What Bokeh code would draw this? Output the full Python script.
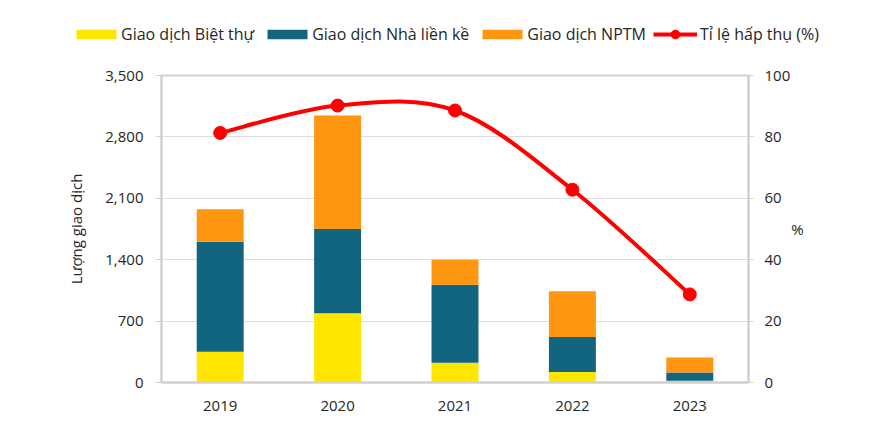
from bokeh.plotting import figure
from bokeh.layouts import column
from bokeh.models import (Range1d, FactorRange, LinearAxis, FixedTicker,
                          NumeralTickFormatter, Legend, LegendItem, ColumnDataSource)
from bokeh.embed import file_html
from bokeh.resources import INLINE

# ---- data ----
years = ["2019", "2020", "2021", "2022", "2023"]
biet_thu = [350, 790, 225, 120, 20]          # Giao dịch Biệt thự
nha_lien_ke = [1255, 960, 890, 400, 95]      # Giao dịch Nhà liền kề
nptm = [370, 1295, 285, 520, 170]            # Giao dịch NPTM
ti_le = [81.3, 90.2, 88.6, 62.8, 28.7]       # Tỉ lệ hấp thụ (%)
left_ticks = [0, 700, 1400, 2100, 2800, 3500]
right_ticks = [0, 20, 40, 60, 80, 100]
series_labels = ["Giao dịch Biệt thự", "Giao dịch Nhà liền kề", "Giao dịch NPTM",
                 "Tỉ lệ hấp thụ (%)"]

FONT = "Open Sans"
TXT = "#262626"
GRAY = "#D3CFCF"
C_YEL, C_TEAL, C_ORG, C_RED = "#FFE600", "#12657F", "#FF9612", "#FF0000"

W = 853
LH = 50          # legend strip height
H = 424 - LH

src = ColumnDataSource(dict(years=years, bt=biet_thu, nlk=nha_lien_ke, nptm=nptm, tl=ti_le))

# ---------------- main chart ----------------
p = figure(width=W, height=H, x_range=FactorRange(*years), y_range=Range1d(0, 3500),
           output_backend="svg", toolbar_location=None,
           min_border_left=161, min_border_right=105, min_border_top=25, min_border_bottom=42)
p.extra_y_ranges = {"pct": Range1d(0, 100)}
p.background_fill_color = "white"
p.border_fill_color = "white"
p.outline_line_color = GRAY
p.outline_line_width = 2

bars = p.vbar_stack(["bt", "nlk", "nptm"], x="years", width=0.4, source=src,
                    fill_color=[C_YEL, C_TEAL, C_ORG], line_color=None)

# smoothed line (Catmull-Rom -> cubic Bezier) through the absorption-rate points
xs = [i + 0.5 for i in range(len(years))]
pts = list(zip(xs, ti_le))
x0, y0, x1, y1, cx0, cy0, cx1, cy1 = ([] for _ in range(8))
for i in range(len(pts) - 1):
    p0 = pts[i]; p3 = pts[i + 1]
    pm = pts[i - 1] if i > 0 else pts[i]
    pn = pts[i + 2] if i + 2 < len(pts) else pts[i + 1]
    x0.append(p0[0]); y0.append(p0[1]); x1.append(p3[0]); y1.append(p3[1])
    cx0.append(p0[0] + (p3[0] - pm[0]) / 6); cy0.append(p0[1] + (p3[1] - pm[1]) / 6)
    cx1.append(p3[0] - (pn[0] - p0[0]) / 6); cy1.append(p3[1] - (pn[1] - p0[1]) / 6)
p.bezier(x0=x0, y0=y0, x1=x1, y1=y1, cx0=cx0, cy0=cy0, cx1=cx1, cy1=cy1,
         y_range_name="pct", line_color=C_RED, line_width=4)
p.scatter(x="years", y="tl", source=src, y_range_name="pct", size=13,
          fill_color=C_RED, line_color=C_RED)

p.xgrid.visible = False
p.ygrid.ticker = FixedTicker(ticks=left_ticks)
p.ygrid.grid_line_color = "#DDDDDD"
p.ygrid.grid_line_width = 1

def style_axis(ax):
    ax.axis_line_color = GRAY
    ax.axis_line_width = 2
    ax.major_tick_line_color = GRAY
    ax.major_tick_line_width = 1
    ax.minor_tick_line_color = None
    ax.major_tick_in = 0
    ax.major_label_text_font = FONT
    ax.major_label_text_font_size = "15px"
    ax.major_label_text_color = TXT
    ax.axis_label_text_font = FONT
    ax.axis_label_text_font_size = "15px"
    ax.axis_label_text_font_style = "normal"
    ax.axis_label_text_color = TXT

ya = p.yaxis[0]
style_axis(ya)
ya.ticker = FixedTicker(ticks=left_ticks)
ya.formatter = NumeralTickFormatter(format="0,0")
ya.major_tick_out = 6
ya.major_label_standoff = 12
ya.axis_label = "Lượng giao dịch"
ya.axis_label_standoff = 16

ra = LinearAxis(y_range_name="pct", ticker=FixedTicker(ticks=right_ticks))
style_axis(ra)
ra.major_tick_out = 5
ra.major_label_standoff = 11
ra.axis_label = "%"
ra.axis_label_standoff = -2
ra.axis_label_orientation = "horizontal"
p.add_layout(ra, "right")

xa = p.xaxis[0]
style_axis(xa)
xa.major_tick_line_color = None
xa.major_tick_out = 0
xa.major_label_standoff = 18

# ---------------- legend strip ----------------
lf = figure(width=W, height=LH, x_range=FactorRange(*years), y_range=Range1d(0, 3500),
            output_backend="svg", toolbar_location=None,
            min_border_left=0, min_border_right=0, min_border_top=0, min_border_bottom=0)
lf.frame_align = False
lf.extra_y_ranges = {"pct": Range1d(0, 100)}
lf.axis.visible = False
lf.grid.visible = False
lf.outline_line_color = None
lf.background_fill_color = "white"
lf.border_fill_color = "white"

# legend proxies share the chart's data but are not drawn themselves
r_bt = lf.vbar(x="years", top="bt", source=src, width=0.4, fill_color=C_YEL,
               line_color=None, visible=False)
r_nlk = lf.vbar(x="years", top="nlk", source=src, width=0.4, fill_color=C_TEAL,
                line_color=None, visible=False)
r_nptm = lf.vbar(x="years", top="nptm", source=src, width=0.4, fill_color=C_ORG,
                 line_color=None, visible=False)
r_line = lf.line(x="years", y="tl", source=src, y_range_name="pct", line_color=C_RED,
                 line_width=4, visible=False)
r_dot = lf.scatter(x="years", y="tl", source=src, y_range_name="pct", size=13,
                   fill_color=C_RED, line_color=C_RED, visible=False)

def style_legend(lg):
    lg.background_fill_alpha = 0
    lg.border_line_color = None
    lg.padding = 0
    lg.margin = 0
    lg.label_text_font = FONT
    lg.label_text_font_size = "16px"
    lg.label_text_color = TXT
    lg.label_height = 20
    lg.inactive_fill_alpha = 0

lg1 = Legend(items=[LegendItem(label=series_labels[0], renderers=[r_bt]),
                    LegendItem(label=series_labels[1], renderers=[r_nlk]),
                    LegendItem(label=series_labels[2], renderers=[r_nptm])],
             orientation="horizontal", location=(71, 5),
             glyph_width=50, glyph_height=12, label_standoff=0, spacing=8)
style_legend(lg1)
lf.add_layout(lg1, "center")

lg2 = Legend(items=[LegendItem(label=series_labels[3], renderers=[r_line, r_dot])],
             orientation="horizontal", location=(653, 5),
             glyph_width=44, glyph_height=22, label_standoff=3, spacing=0)
style_legend(lg2)
lf.add_layout(lg2, "center")

layout = column(lf, p, spacing=0)
open("out.html", "w").write(file_html(layout, INLINE))
